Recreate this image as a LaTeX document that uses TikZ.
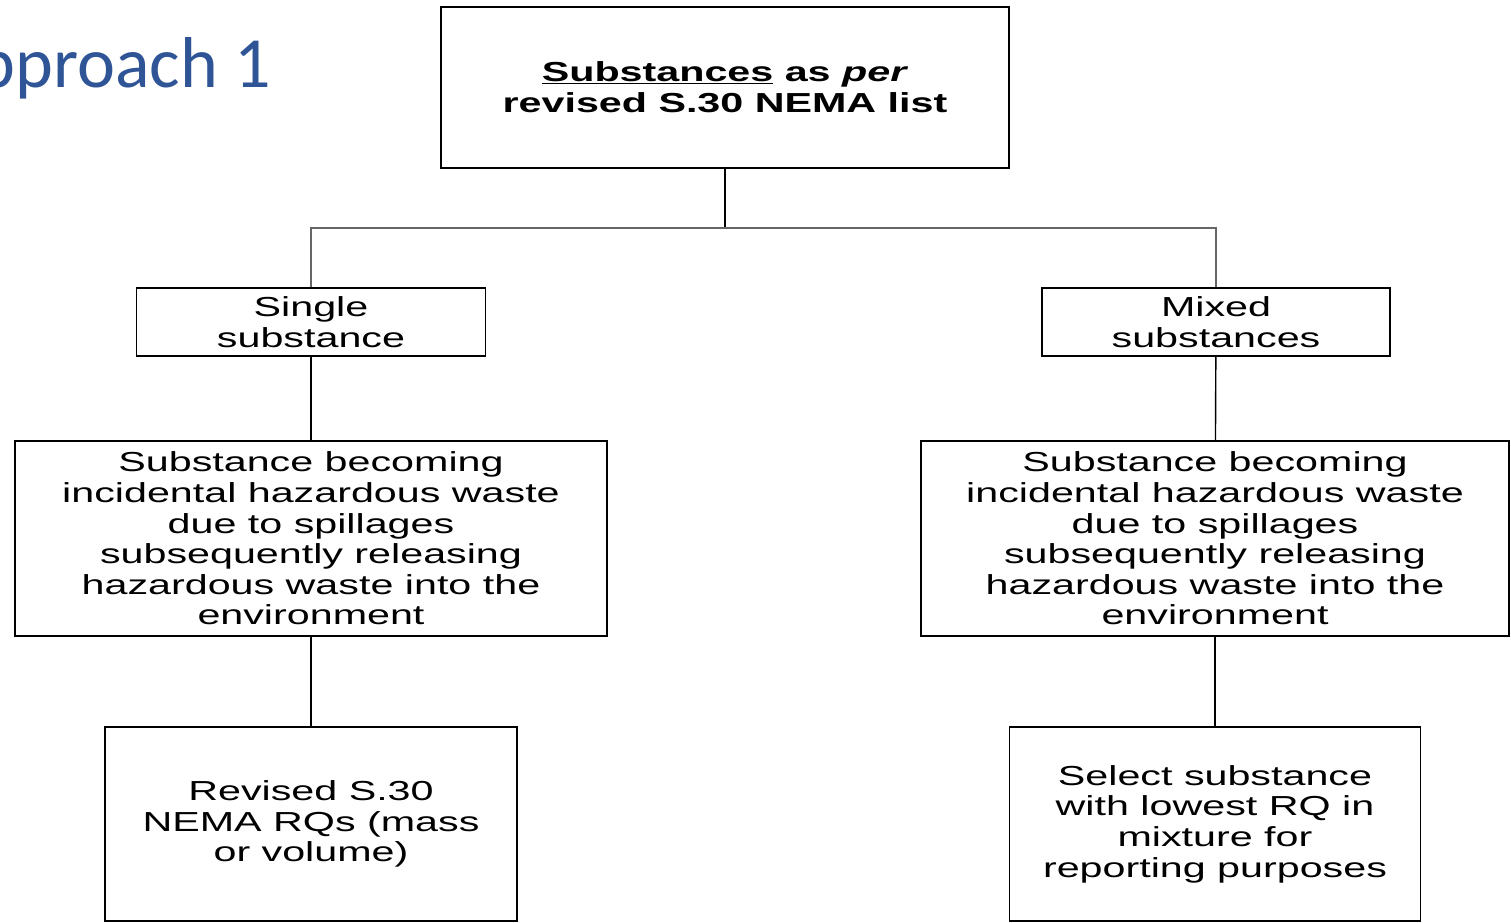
\documentclass[tikz,border=0pt]{standalone}
\usepackage{fontspec}
\newfontfamily\boxfont[FakeStretch=1.5]{Liberation Sans}
\newfontfamily\titlefont{Carlito}
\definecolor{titleblue}{RGB}{47,85,151}
\tikzset{
  box/.style={draw, line width=1.4pt, inner sep=0pt, align=center,
    font=\boxfont\fontsize{27.5}{30.6}\selectfont},
  link/.style={line width=1.4pt},
}

\begin{document}
\begin{tikzpicture}[x=1pt,y=-1pt]
				\useasboundingbox (0,0) rectangle (1511,922);
				\clip (0,0) rectangle (1511,922);

				\node[anchor=base west, inner sep=0pt, text=titleblue,
				  font=\titlefont\fontsize{72}{80}\selectfont] (title) at (-64,87) {Approach 1};

				\node[box, minimum width=568pt, minimum height=161pt,
				  font=\boxfont\bfseries\fontsize{27.5}{31}\selectfont] (list) at (725,87.5)
				  {\underline{Substances} as \textit{per}\\revised S.30 NEMA list};
				\coordinate (split) at (725,228);

				\node[box, minimum width=349pt, minimum height=68pt] (single) at (311,322)
				  {Single\\substance};
				\node[box, minimum width=348pt, minimum height=68pt] (mixed) at (1216,322)
				  {Mixed\\substances};

				\node[box, minimum width=592pt, minimum height=195pt] (spillL) at (311,538.5)
				  {Substance becoming\\incidental hazardous waste\\due to spillages\\subsequently releasing\\hazardous waste into the\\environment};
				\node[box, minimum width=588pt, minimum height=195pt] (spillR) at (1215,538.5)
				  {Substance becoming\\incidental hazardous waste\\due to spillages\\subsequently releasing\\hazardous waste into the\\environment};

				\node[box, minimum width=412pt, minimum height=194pt] (rq) at (311,824)
				  {Revised S.30\\NEMA RQs (mass\\or volume)};
				\node[box, minimum width=411pt, minimum height=194pt] (lowest) at (1215,824)
				  {Select substance\\with lowest RQ in\\mixture for\\reporting purposes};

				\draw [link](list) -- (split);
				\draw [link, black!60](single) |- (split) -| (mixed);
				\draw [link](single) -- (spillL);
				\draw [link](mixed) -- (spillR);
				\draw [link](spillL) -- (rq);
				\draw [link](spillR) -- (lowest);
			\end{tikzpicture}
\end{document}
